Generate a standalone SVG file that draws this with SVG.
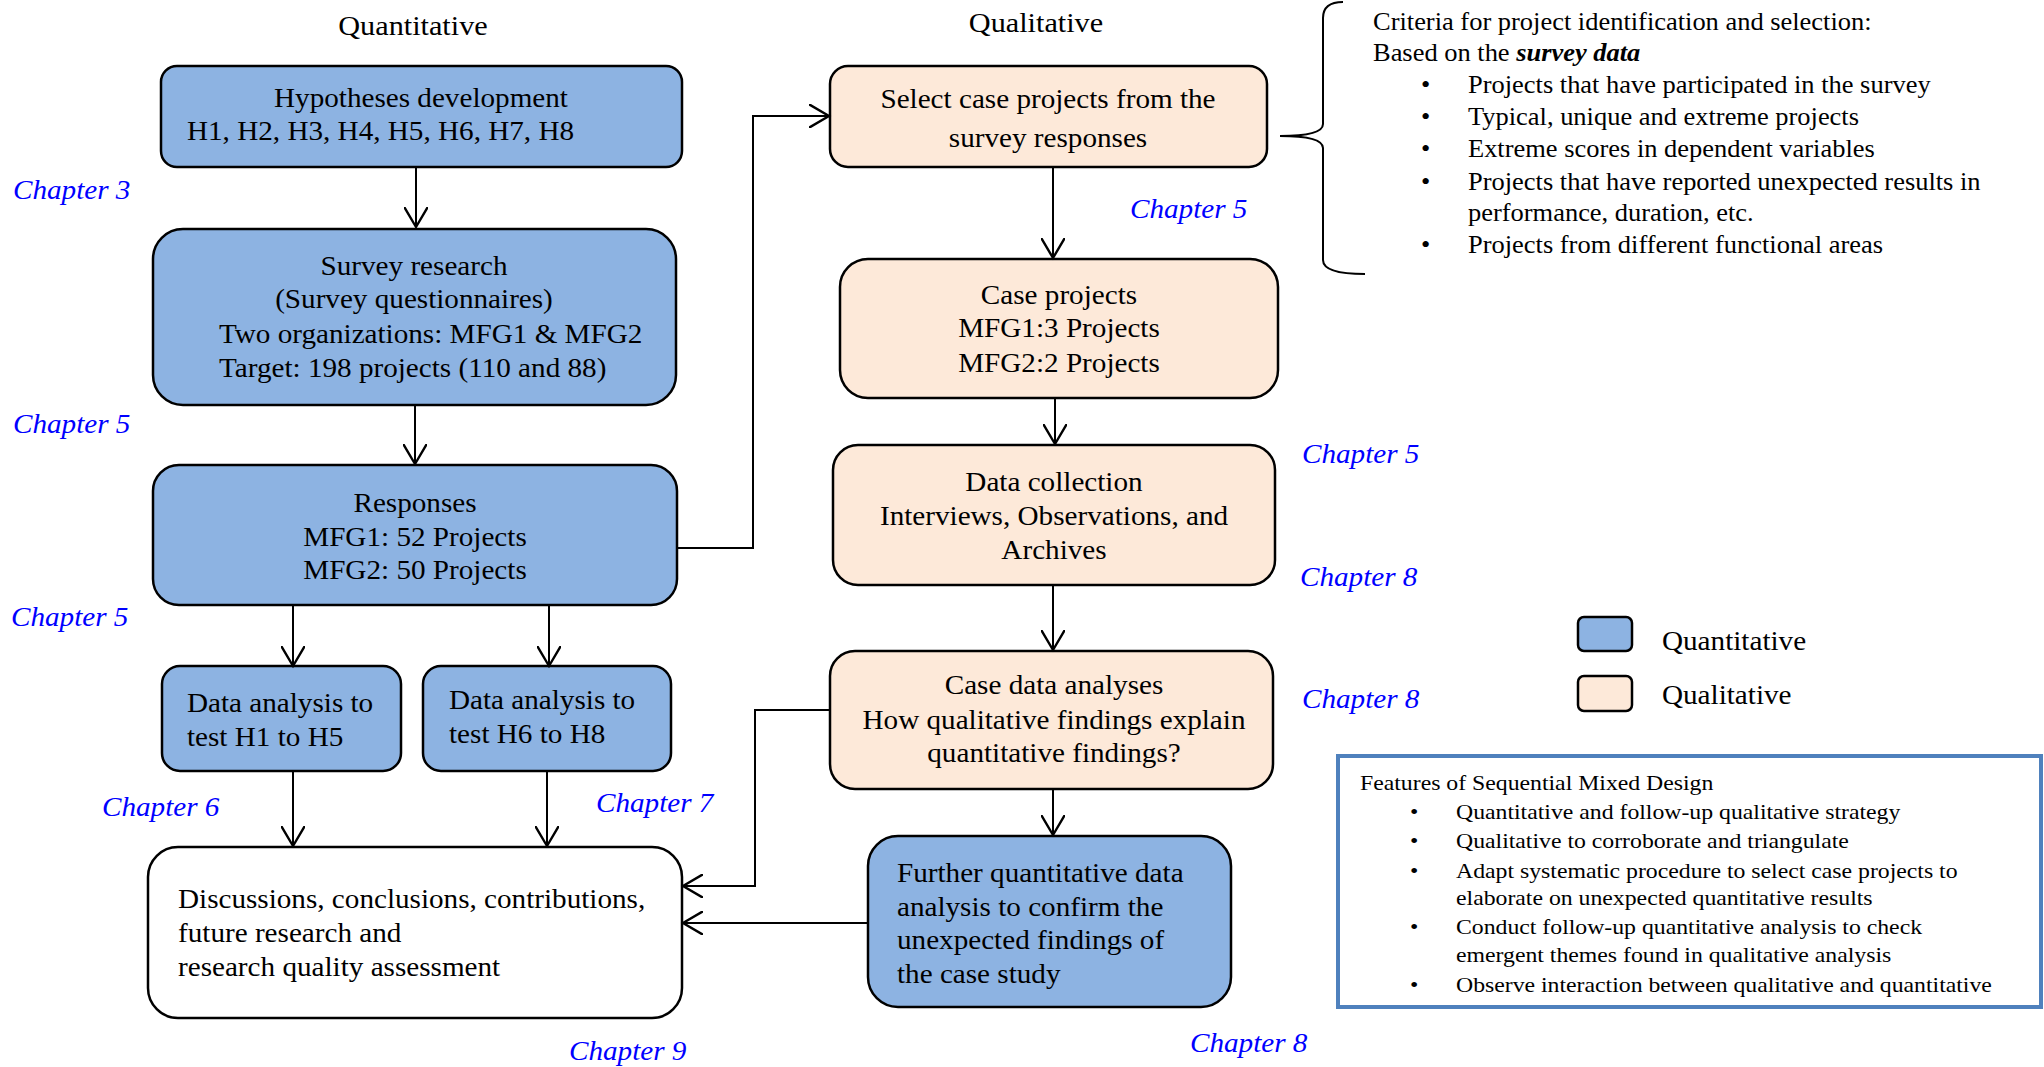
<svg xmlns="http://www.w3.org/2000/svg" width="2044" height="1067" viewBox="0 0 2044 1067">
  <style>
    text { font-family: "Liberation Serif", "Times New Roman", serif; fill: #000; transform-box: fill-box; transform-origin: left center; transform: scaleX(1.08); }
    text.mid { text-anchor: middle; transform-origin: center; }
    .box { font-size: 27px; }
    .title { font-size: 28px; }
    .ch { font-size: 27px; font-style: italic; fill: #0000ff; }
    .crit { font-size: 24.5px; }
    .feat { font-size: 22px; }
    .leg { font-size: 27px; }
    .quant { fill: #8db3e2; stroke: #000; stroke-width: 2.5; }
    .qual { fill: #fde9d9; stroke: #000; stroke-width: 2.5; }
    .plain { fill: #fff; stroke: #000; stroke-width: 2.5; }
    .conn { fill: none; stroke: #000; stroke-width: 2; }
  </style>
  <defs>
    <marker id="arrow" markerUnits="userSpaceOnUse" markerWidth="24" markerHeight="24" refX="17" refY="10" orient="auto" viewBox="0 0 20 20">
      <path d="M0,0 L17,10 L0,20" fill="none" stroke="#000" stroke-width="2"/>
    </marker>
  </defs>

  <rect width="2044" height="1067" fill="#fff"/>

  <!-- column headings -->
  <text class="title mid" x="413" y="35">Quantitative</text>
  <text class="title mid" x="1036" y="32">Qualitative</text>

  <!-- quantitative strand -->
  <g id="hypotheses">
    <rect class="quant" x="161" y="66" width="521" height="101" rx="16"/>
    <text class="box mid" x="421" y="107">Hypotheses development</text>
    <text class="box" x="187" y="140">H1, H2, H3, H4, H5, H6, H7, H8</text>
  </g>
  <g id="survey">
    <rect class="quant" x="153" y="229" width="523" height="176" rx="30"/>
    <text class="box mid" x="414" y="275">Survey research</text>
    <text class="box mid" x="414" y="308">(Survey questionnaires)</text>
    <text class="box" x="219" y="343">Two organizations: MFG1 &amp; MFG2</text>
    <text class="box" x="219" y="377">Target: 198 projects (110 and 88)</text>
  </g>
  <g id="responses">
    <rect class="quant" x="153" y="465" width="524" height="140" rx="26"/>
    <text class="box mid" x="415" y="512">Responses</text>
    <text class="box mid" x="415" y="546">MFG1: 52 Projects</text>
    <text class="box mid" x="415" y="579">MFG2: 50 Projects</text>
  </g>
  <g id="analysis-h1-h5">
    <rect class="quant" x="162" y="666" width="239" height="105" rx="18"/>
    <text class="box" x="187" y="712">Data analysis to</text>
    <text class="box" x="187" y="746">test H1 to H5</text>
  </g>
  <g id="analysis-h6-h8">
    <rect class="quant" x="423" y="666" width="248" height="105" rx="18"/>
    <text class="box" x="449" y="709">Data analysis to</text>
    <text class="box" x="449" y="743">test H6 to H8</text>
  </g>
  <g id="discussions">
    <rect class="plain" x="148" y="847" width="534" height="171" rx="30"/>
    <text class="box" x="178" y="908">Discussions, conclusions, contributions,</text>
    <text class="box" x="178" y="942">future research and</text>
    <text class="box" x="178" y="976">research quality assessment</text>
  </g>

  <!-- qualitative strand -->
  <g id="select-cases">
    <rect class="qual" x="830" y="66" width="437" height="101" rx="18"/>
    <text class="box mid" x="1048" y="108">Select case projects from the</text>
    <text class="box mid" x="1048" y="147">survey responses</text>
  </g>
  <g id="case-projects">
    <rect class="qual" x="840" y="259" width="438" height="139" rx="28"/>
    <text class="box mid" x="1059" y="304">Case projects</text>
    <text class="box mid" x="1059" y="337">MFG1:3 Projects</text>
    <text class="box mid" x="1059" y="372">MFG2:2 Projects</text>
  </g>
  <g id="data-collection">
    <rect class="qual" x="833" y="445" width="442" height="140" rx="25"/>
    <text class="box mid" x="1054" y="491">Data collection</text>
    <text class="box mid" x="1054" y="525">Interviews, Observations, and</text>
    <text class="box mid" x="1054" y="559">Archives</text>
  </g>
  <g id="case-analyses">
    <rect class="qual" x="830" y="651" width="443" height="138" rx="25"/>
    <text class="box mid" x="1054" y="694">Case data analyses</text>
    <text class="box mid" x="1054" y="729">How qualitative findings explain</text>
    <text class="box mid" x="1054" y="762">quantitative findings?</text>
  </g>
  <g id="further-analysis">
    <rect class="quant" x="868" y="836" width="363" height="171" rx="30"/>
    <text class="box" x="897" y="882">Further quantitative data</text>
    <text class="box" x="897" y="916">analysis to confirm the</text>
    <text class="box" x="897" y="949">unexpected findings of</text>
    <text class="box" x="897" y="983">the case study</text>
  </g>

  <!-- connectors -->
  <g id="connectors" class="conn">
    <path d="M416,167 V227" marker-end="url(#arrow)"/>
    <path d="M415,405 V464" marker-end="url(#arrow)"/>
    <path d="M293,605 V666" marker-end="url(#arrow)"/>
    <path d="M549,605 V666" marker-end="url(#arrow)"/>
    <path d="M293,771 V846" marker-end="url(#arrow)"/>
    <path d="M547,771 V846" marker-end="url(#arrow)"/>
    <path d="M677,548 H753 V116 H829" marker-end="url(#arrow)"/>
    <path d="M1053,167 V258" marker-end="url(#arrow)"/>
    <path d="M1055,398 V444" marker-end="url(#arrow)"/>
    <path d="M1053,585 V650" marker-end="url(#arrow)"/>
    <path d="M1053,789 V835" marker-end="url(#arrow)"/>
    <path d="M830,710 H755 V886 H683" marker-end="url(#arrow)"/>
    <path d="M868,923 H683" marker-end="url(#arrow)"/>
  </g>

  <!-- chapter references -->
  <g id="chapters">
    <text class="ch" x="13" y="199">Chapter 3</text>
    <text class="ch" x="13" y="433">Chapter 5</text>
    <text class="ch" x="11" y="626">Chapter 5</text>
    <text class="ch" x="102" y="816">Chapter 6</text>
    <text class="ch" x="596" y="812">Chapter 7</text>
    <text class="ch" x="569" y="1060">Chapter 9</text>
    <text class="ch" x="1130" y="218">Chapter 5</text>
    <text class="ch" x="1302" y="463">Chapter 5</text>
    <text class="ch" x="1300" y="586">Chapter 8</text>
    <text class="ch" x="1302" y="708">Chapter 8</text>
    <text class="ch" x="1190" y="1052">Chapter 8</text>
  </g>

  <!-- selection criteria with brace -->
  <g id="criteria">
    <path d="M1343,2 Q1323,2 1323,18 L1323,124 Q1323,136 1280,136 Q1323,136 1323,148 L1323,260 Q1323,274 1365,274" fill="none" stroke="#000" stroke-width="2"/>
    <text class="crit" x="1373" y="30">Criteria for project identification and selection:</text>
    <text class="crit" x="1373" y="61">Based on the <tspan font-weight="bold" font-style="italic">survey data</tspan></text>
    <text class="crit" x="1421" y="93">•</text>
    <text class="crit" x="1468" y="93">Projects that have participated in the survey</text>
    <text class="crit" x="1421" y="125">•</text>
    <text class="crit" x="1468" y="125">Typical, unique and extreme projects</text>
    <text class="crit" x="1421" y="157">•</text>
    <text class="crit" x="1468" y="157">Extreme scores in dependent variables</text>
    <text class="crit" x="1421" y="190">•</text>
    <text class="crit" x="1468" y="190">Projects that have reported unexpected results in</text>
    <text class="crit" x="1468" y="221">performance, duration, etc.</text>
    <text class="crit" x="1421" y="253">•</text>
    <text class="crit" x="1468" y="253">Projects from different functional areas</text>
  </g>

  <!-- legend -->
  <g id="legend">
    <rect class="quant" x="1578" y="617" width="54" height="34" rx="6"/>
    <text class="leg" x="1662" y="650">Quantitative</text>
    <rect class="qual" x="1578" y="676" width="54" height="35" rx="6"/>
    <text class="leg" x="1662" y="704">Qualitative</text>
  </g>

  <!-- features panel -->
  <g id="features">
    <rect x="1338" y="756" width="703" height="251" fill="#fff" stroke="#4f81bd" stroke-width="4"/>
    <text class="feat" x="1360" y="790">Features of Sequential Mixed Design</text>
    <text class="feat" x="1410" y="819">•</text>
    <text class="feat" x="1456" y="819">Quantitative and follow-up qualitative strategy</text>
    <text class="feat" x="1410" y="848">•</text>
    <text class="feat" x="1456" y="848">Qualitative to corroborate and triangulate</text>
    <text class="feat" x="1410" y="878">•</text>
    <text class="feat" x="1456" y="878">Adapt systematic procedure to select case projects to</text>
    <text class="feat" x="1456" y="905">elaborate on unexpected quantitative results</text>
    <text class="feat" x="1410" y="934">•</text>
    <text class="feat" x="1456" y="934">Conduct follow-up quantitative analysis to check</text>
    <text class="feat" x="1456" y="962">emergent themes found in qualitative analysis</text>
    <text class="feat" x="1410" y="992">•</text>
    <text class="feat" x="1456" y="992">Observe interaction between qualitative and quantitative</text>
  </g>
</svg>
